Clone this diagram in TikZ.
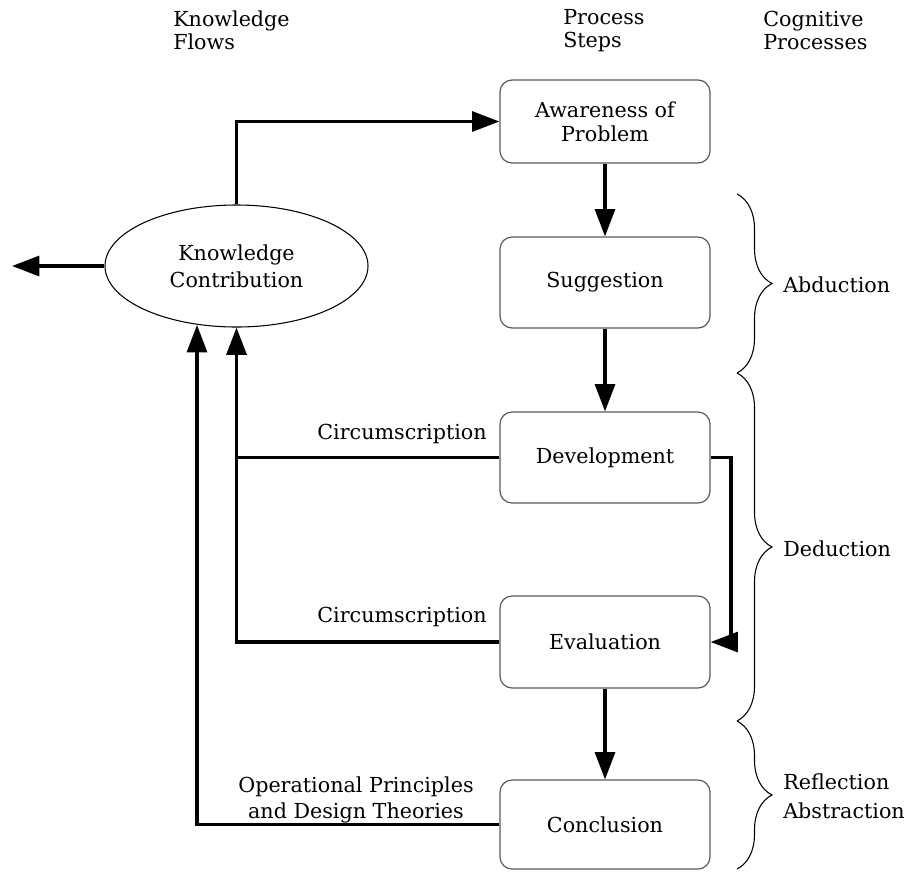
\documentclass[tikz,border=0pt]{standalone}
\usepackage{fontspec}
\setmainfont{DejaVu Serif}
\usetikzlibrary{arrows.meta,shapes.geometric,decorations.pathreplacing}
\newcommand\pxu{0.75pt}
\begin{document}
\begin{tikzpicture}[x=0.75pt,y=-0.75pt,
  every node/.style={font=\fontsize{15.5}{19.5}\selectfont, inner sep=0pt},
  stepbox/.style={draw=black!65, line width=0.9pt, rounded corners=12*\pxu, minimum width=210*\pxu, align=center},
  flow/.style={line width=2.3pt, -{Triangle[length=20.5pt,width=15pt]}},
  plainflow/.style={line width=2.3pt},
  bracedec/.style={draw, decorate, decoration={brace, amplitude=35*\pxu, aspect=0.5}, line width=0.8pt},
  hdr/.style={align=left, anchor=west, font=\fontsize{15.5}{17.5}\selectfont},
  lbl/.style={align=left, anchor=west}
]
\useasboundingbox (0,0) rectangle (912,872);

% headers
\node[hdr] (h1) at (173,30.5) {Knowledge\\Flows};
\node[hdr] (h2) at (563,30.5) {Process\\Steps};
\node[hdr] (h3) at (763,30.5) {Cognitive\\Processes};

% process steps
\node[stepbox, minimum height=83*\pxu, font=\fontsize{15.5}{18}\selectfont] (aw) at (605,121.5) {Awareness of\\Problem};
\node[stepbox, minimum height=91*\pxu] (sg) at (605,282.5) {Suggestion};
\node[stepbox, minimum height=91*\pxu] (dv) at (605,457.5) {Development};
\node[stepbox, minimum height=92*\pxu] (ev) at (605,642) {Evaluation};
\node[stepbox, minimum height=89*\pxu] (cc) at (605,824.5) {Conclusion};

% knowledge contribution
\node[draw, ellipse, line width=0.8pt, minimum width=263*\pxu, minimum height=122*\pxu, align=center, font=\fontsize{15.5}{20}\selectfont] (kc) at (236.5,266) {Knowledge\\Contribution};

% coordinates
\coordinate (outk) at (12,266);
\coordinate (devturn) at (731,457.5);
\coordinate (j1) at (236.5,457.5);
\coordinate (kin) at (197,325);

% flows
\draw[flow] (aw) -- (sg);
\draw[flow] (sg) -- (dv);
\draw[flow] (ev) -- (cc);
\draw[flow] (kc.north) |- (aw.west);
\draw[flow] (kc.west) -- (outk);
\draw[flow] (dv.east) -- (devturn) |- (ev.east);
\draw[flow] (dv.west) -| (kc.south);
\draw[plainflow] (ev.west) -| (j1);
\draw[flow] (cc.west) -| (kin);

% flow labels
\node[anchor=east] (c1) at (487,434) {Circumscription};
\node[anchor=east] (c2) at (487,617) {Circumscription};
\node[align=center] (op) at (356,800) {Operational Principles\\and Design Theories};

% braces
\coordinate (b1t) at (737,194);
\coordinate (b1b) at (737,373);
\coordinate (b2b) at (737,721);
\coordinate (b3b) at (737,869);
\draw[bracedec] (b1t) -- (b1b);
\draw[bracedec] (b1b) -- (b2b);
\draw[bracedec] (b2b) -- (b3b);

\node[lbl] (ab) at (783,285) {Abduction};
\node[lbl] (de) at (783,549) {Deduction};
\node[lbl, font=\fontsize{15.5}{22}\selectfont] (re) at (783,796) {Reflection\\Abstraction};
\end{tikzpicture}
\end{document}
